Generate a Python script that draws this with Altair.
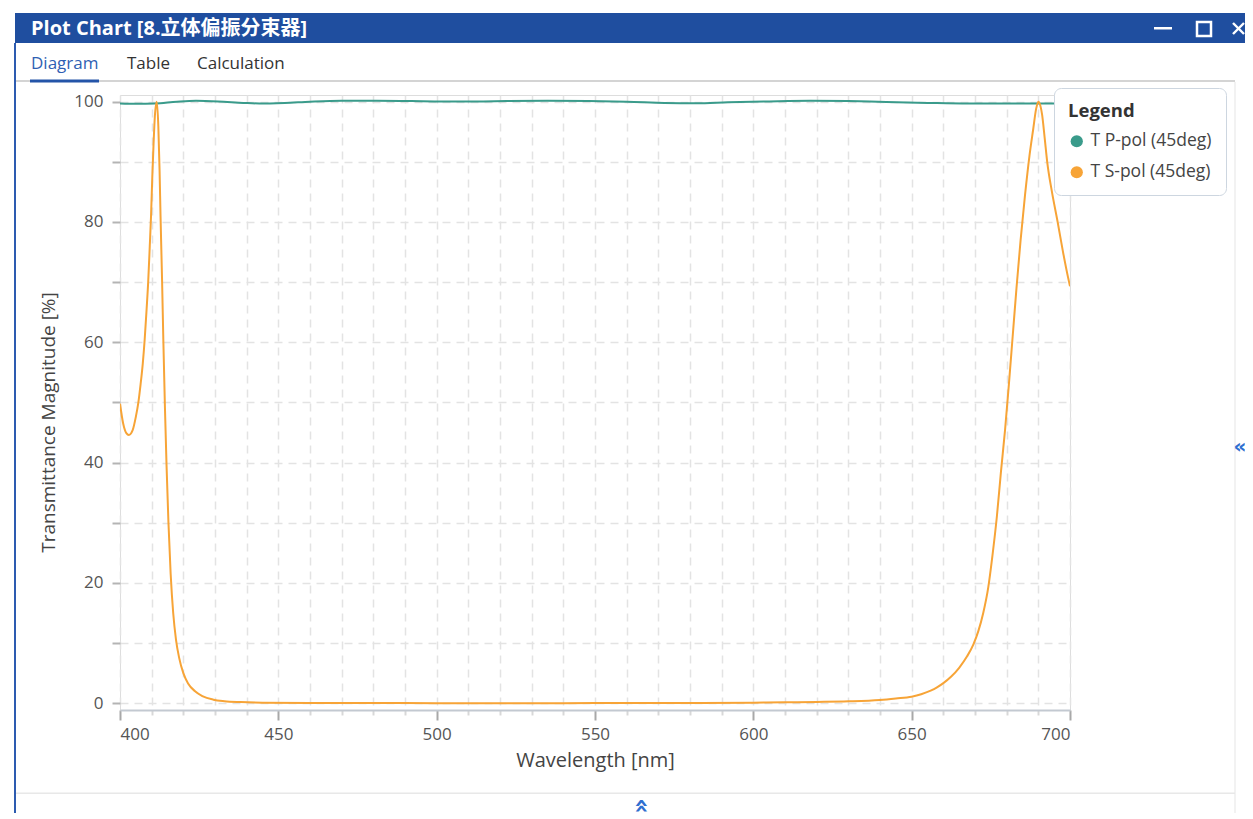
import altair as alt
import pandas as pd

# ---------------- data ----------------
series_names = ["T P-pol (45deg)", "T S-pol (45deg)"]
series_colors = ["#3a9b8b", "#f7a437"]

wl_p = [400, 405, 411, 418, 424, 431, 439, 444, 452, 460, 470, 481, 492, 502,
        512, 522, 535, 548, 560, 572, 582, 592, 605, 618, 630, 642, 655, 668,
        680, 690, 700]
t_p = [99.7, 99.65, 99.7, 100.0, 100.15, 100.05, 99.8, 99.7, 99.8, 100.0,
       100.15, 100.15, 100.1, 100.05, 100.05, 100.1, 100.15, 100.1, 100.0,
       99.8, 99.75, 99.9, 100.05, 100.15, 100.1, 99.95, 99.8, 99.7, 99.7,
       99.7, 99.7]

wl_s = [400, 401, 402, 402.8, 404, 405, 405.8, 406.5, 407.2, 407.8, 408.4,
        408.9, 409.4, 409.8, 410.2, 410.6, 411.0, 411.6, 412.1, 412.5, 412.8,
        413.3, 413.7, 414.2, 414.7, 415.3, 416.0, 416.8, 417.7, 418.7, 420,
        421.5, 423.7, 426, 429.5, 433, 438, 445, 460, 480, 500, 520, 540, 560,
        580, 600, 610, 620, 630, 640, 645, 650, 653, 656, 658, 660, 662.5,
        665, 667.5, 669.5, 671, 672.6, 674.2, 675.5, 676.9, 678.2, 679.5,
        680.7, 681.9, 683.1, 684.4, 685.8, 687.2, 688.4, 689.3, 690.0, 690.6,
        691.2, 692.0, 692.8, 694.3, 696.1, 697.8, 699.5, 700]
t_s = [49.8, 46.5, 44.9, 44.6, 45.4, 47.6, 50.0, 53.0, 56.5, 60.5, 65.5,
       70.0, 76.0, 81.0, 87.5, 93.0, 97.5, 100.0, 96.0, 88.5, 81.0,
       70.0, 60.0, 49.0, 39.5, 30.0, 21.5, 15.0, 10.5, 7.5, 5.0,
       3.3, 2.0, 1.2, 0.6, 0.35, 0.2, 0.1, 0.05, 0.03, 0.02, 0.02, 0.02, 0.03,
       0.05, 0.1, 0.15, 0.22, 0.32, 0.55, 0.8, 1.1, 1.5, 2.1, 2.65, 3.35, 4.45,
       5.9, 7.8, 9.8, 11.9, 15.0, 19.3, 24.5, 31.0, 38.5, 45.5,
       53.0, 61.0, 69.0, 77.0, 84.5, 91.0, 95.5, 98.8, 100.0, 99.4,
       97.8, 94.0, 90.0, 85.0, 80.0, 75.0, 70.5, 69.3]

x_ticks = list(range(400, 701, 10))
y_ticks = list(range(0, 101, 10))
x_domain = [400, 700]
y_domain = [-1.12, 101.11]

title_text = "Plot Chart [8.立体偏振分束器]"
tab_labels = ["Diagram", "Table", "Calculation"]

df = pd.concat([
    pd.DataFrame({"wl": wl_p, "t": t_p, "series": series_names[0]}),
    pd.DataFrame({"wl": wl_s, "t": t_s, "series": series_names[1]}),
], ignore_index=True)

# ---------------- layout ----------------
OX, OY = 120, 95          # page position of plot origin
PW, PH = 950, 615
UI_FONT = "Open Sans"


def one_row():
    return alt.Data(values=[{"k": 1}])


def rect(x1, x2, y1, y2, color, **kw):
    return alt.Chart(one_row()).mark_rect(color=color, **kw).encode(
        x=alt.value(x1 - OX), x2=alt.value(x2 - OX),
        y=alt.value(y1 - OY), y2=alt.value(y2 - OY))


def seg(x1, y1, x2, y2, color, width):
    return alt.Chart(one_row()).mark_rule(color=color, strokeWidth=width).encode(
        x=alt.value(x1 - OX), x2=alt.value(x2 - OX),
        y=alt.value(y1 - OY), y2=alt.value(y2 - OY))


def label(x, y, text, size, color, weight="normal", align="left", angle=0,
          font=UI_FONT):
    return alt.Chart(one_row()).mark_text(
        fontSize=size, color=color, fontWeight=weight, align=align,
        baseline="middle", angle=angle, font=font).encode(
        x=alt.value(x - OX), y=alt.value(y - OY), text=alt.value(text))


chrome = [
    rect(15, 1253, 13, 43, "#1f4e9f"),
    label(31, 28.5, title_text, 20, "white", weight="bold",
          font="Open Sans, Noto Sans CJK SC"),
    rect(1154, 1172, 27, 29.5, "white"),
    alt.Chart(one_row()).mark_rect(fill="#1f4e9f", stroke="white", strokeWidth=2.5).encode(
        x=alt.value(1197 - OX), x2=alt.value(1211 - OX),
        y=alt.value(22 - OY), y2=alt.value(36 - OY)),
    seg(1233, 23, 1244, 34, "white", 2.4),
    seg(1233, 34, 1244, 23, "white", 2.4),
    rect(14, 16, 43, 819, "#2d5bb0"),
    rect(16, 1235, 80, 82, "#d4d4d4"),
    rect(30, 99, 79.5, 82.5, "#2454a8"),
    label(31, 64, tab_labels[0], 17, "#2f5fb3"),
    label(127, 64, tab_labels[1], 17, "#333333"),
    label(197, 64, tab_labels[2], 17, "#333333"),
    rect(1234.5, 1235.5, 82, 819, "#e6e6e6"),
    rect(16, 1235, 792.5, 794, "#e8e8e8"),
    label(641, 806, "«", 24, "#2f6fd0", weight="bold", align="center",
          angle=90, font="DejaVu Sans"),
    label(1240, 447, "«", 20, "#2f6fd0", weight="bold", align="center",
          font="DejaVu Sans"),
]

major_x = "datum.value % 50 === 0"

x_enc = alt.X("wl:Q", scale=alt.Scale(domain=x_domain, nice=False, zero=False),
              axis=alt.Axis(
                  values=x_ticks, title="Wavelength [nm]",
                  labelExpr=f"{major_x} ? datum.label : ''",
                  tickSize={"condition": {"test": major_x, "value": 10}, "value": 5},
                  tickColor={"condition": {"test": major_x, "value": "#a8a8a8"},
                             "value": "#d8d8d8"},
                  tickWidth=2,
                  labelPadding=6, titlePadding=8,
                  domainColor="#c3c9d1", domainWidth=2,
                  gridColor="#e3e3e3", gridDash=[8, 6], gridWidth=1.5,
                  labelFontSize=17, labelColor="#555555",
                  titleFontSize=20, titleColor="#444444", titleFontWeight="normal",
                  labelFont=UI_FONT, titleFont=UI_FONT))
y_enc = alt.Y("t:Q", scale=alt.Scale(domain=y_domain, nice=False, zero=False),
              axis=alt.Axis(
                  values=y_ticks, title="Transmittance Magnitude [%]",
                  labelExpr="datum.value % 20 === 0 ? datum.label : ''",
                  tickSize=8, tickColor="#b4b4b4", tickWidth=2,
                  domain=False, labelPadding=9, titlePadding=15,
                  titleY=327,
                  gridColor="#e3e3e3", gridDash=[8, 6], gridWidth=1.5,
                  labelFontSize=17, labelColor="#555555",
                  titleFontSize=19, titleColor="#444444", titleFontWeight="normal",
                  labelFont=UI_FONT, titleFont=UI_FONT))
color_scale = alt.Scale(domain=series_names, range=series_colors)

legend_def = alt.Legend(
    title="Legend", orient="none",
    legendX=1054 - OX, legendY=88 - OY,
    fillColor="white", strokeColor="#cdd6e0",
    cornerRadius=7, padding=14,
    titleFontSize=18.5, titleFontWeight="bold",
    titleColor="#333333", titleFont=UI_FONT,
    titlePadding=12,
    labelFontSize=17.5, labelColor="#444444", labelFont=UI_FONT,
    labelOffset=5, rowPadding=12,
    symbolType="circle", symbolSize=150, symbolOpacity=1,
    symbolStrokeWidth=0)

# point layer with no visible rows: only supplies filled legend symbols
legend_points = alt.Chart(df).transform_filter("false").mark_point(
    filled=True, opacity=1).encode(
    x=x_enc, y=y_enc,
    color=alt.Color("series:N", scale=color_scale, legend=legend_def))

lines = alt.Chart(df).mark_line(strokeWidth=2, interpolate="monotone", clip=True).encode(
    x=x_enc, y=y_enc,
    color=alt.Color("series:N", scale=color_scale, legend=None))

chart = alt.layer(*chrome, legend_points, lines).properties(
    width=PW, height=PH,
    autosize=alt.AutoSizeParams(type="none"),
    padding={"left": OX - 8, "top": OY - 8, "right": 1245 - (OX + PW), "bottom": 103},
).configure_view(stroke="#bcc5d0", strokeWidth=2).configure(background="white")

chart.save("out.html", embed_options={"renderer": "svg", "actions": False})
